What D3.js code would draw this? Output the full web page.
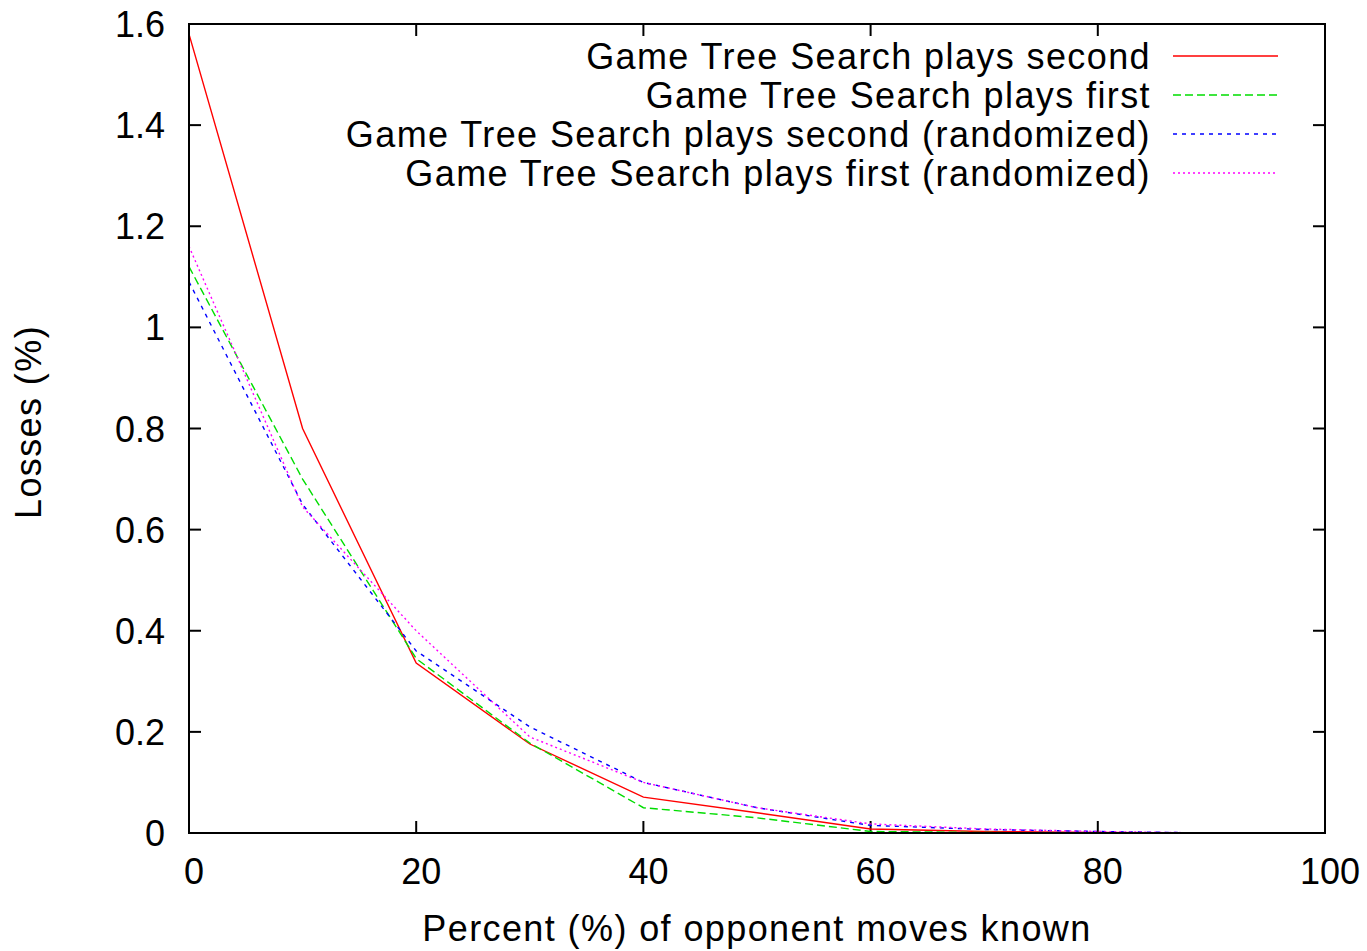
<!DOCTYPE html>
<html lang="en">
<head>
<meta charset="UTF-8">
<script src="https://d3js.org/d3.v7.min.js"></script>
<style>
body { margin: 0; background: #fff; }
text { font-family: "Liberation Sans", Arial, sans-serif; fill: #000; font-size: 36px; }
.label { letter-spacing: 1.4px; }
.frame { fill: none; stroke: #000; stroke-width: 2; }
.series { fill: none; stroke-width: 1.4; }
</style>
</head>
<body>
<svg id="chart"></svg>
<script>
// data
const known = [0, 10, 20, 30, 40, 50, 60, 70, 80, 90, 100];
const secondPlain = [1.58, 0.80, 0.336, 0.176, 0.071, 0.04, 0.008, 0.003, 0.001, 0, 0];
const firstPlain  = [1.12, 0.70, 0.345, 0.178, 0.05, 0.03, 0.003, 0.001, 0, 0, 0];
const secondRand  = [1.09, 0.65, 0.36, 0.21, 0.10, 0.05, 0.015, 0.007, 0.003, 0, 0];
const firstRand   = [1.16, 0.645, 0.40, 0.19, 0.10, 0.05, 0.018, 0.008, 0.003, 0, 0];
const seriesNames = [
  'Game Tree Search plays second',
  'Game Tree Search plays first',
  'Game Tree Search plays second (randomized)',
  'Game Tree Search plays first (randomized)'
];
const xTicks = [0, 20, 40, 60, 80, 100];
const yTicks = [0, 0.2, 0.4, 0.6, 0.8, 1, 1.2, 1.4, 1.6];

const W = 1367, H = 951;
const margin = { top: 24, right: 42, bottom: 118, left: 189 };
const width = W - margin.left - margin.right,
      height = H - margin.top - margin.bottom;

const svg = d3.select('#chart').attr('width', W).attr('height', H);
const g = svg.append('g').attr('transform', `translate(${margin.left},${margin.top})`);

const x = d3.scaleLinear().domain([0, 100]).range([0, width]);
const y = d3.scaleLinear().domain([0, 1.6]).range([height, 0]);

const styles = [
  { color: '#ff0000', dash: null },
  { color: '#00dd00', dash: '8,4' },
  { color: '#0000ff', dash: '4,5' },
  { color: '#ff00ff', dash: '2,3' }
];
const allSeries = [secondPlain, firstPlain, secondRand, firstRand];

// ticks (inside, gnuplot style)
const tl = 12;
xTicks.forEach(t => {
  g.append('line').attr('x1', x(t)).attr('x2', x(t)).attr('y1', height).attr('y2', height - tl).attr('stroke', '#000').attr('stroke-width', 2);
  g.append('line').attr('x1', x(t)).attr('x2', x(t)).attr('y1', 0).attr('y2', tl).attr('stroke', '#000').attr('stroke-width', 2);
  g.append('text').attr('x', x(t) + 5).attr('y', height + 51).attr('text-anchor', 'middle').text(t);
});
yTicks.forEach(t => {
  g.append('line').attr('x1', 0).attr('x2', tl).attr('y1', y(t)).attr('y2', y(t)).attr('stroke', '#000').attr('stroke-width', 2);
  g.append('line').attr('x1', width).attr('x2', width - tl).attr('y1', y(t)).attr('y2', y(t)).attr('stroke', '#000').attr('stroke-width', 2);
  g.append('text').attr('x', -24).attr('y', y(t) + 13).attr('text-anchor', 'end')
    .text(d3.format('~g')(t));
});

// lines
const line = d3.line().x((d, i) => x(known[i])).y(d => y(d));
allSeries.forEach((s, i) => {
  g.append('path').datum(s).attr('class', 'series')
    .attr('stroke', styles[i].color)
    .attr('stroke-dasharray', styles[i].dash)
    .attr('d', line);
});

g.append('rect').attr('class', 'frame').attr('width', width).attr('height', height);

// legend
seriesNames.forEach((name, i) => {
  const ly = 32 + i * 39;
  g.append('text').attr('class', 'label').attr('x', 962).attr('y', ly + 13).attr('text-anchor', 'end')
    .text(name);
  g.append('line').attr('x1', 984).attr('x2', 1089).attr('y1', ly).attr('y2', ly)
    .attr('stroke', styles[i].color).attr('stroke-width', 1.4)
    .attr('stroke-dasharray', styles[i].dash);
});

// axis titles
svg.append('text').attr('class', 'label').attr('x', 757).attr('y', 941).attr('text-anchor', 'middle')
  .text('Percent (%) of opponent moves known');
svg.append('text').attr('class', 'label').attr('transform', 'translate(41, 422) rotate(-90)')
  .attr('text-anchor', 'middle').text('Losses (%)');
</script>
</body>
</html>
